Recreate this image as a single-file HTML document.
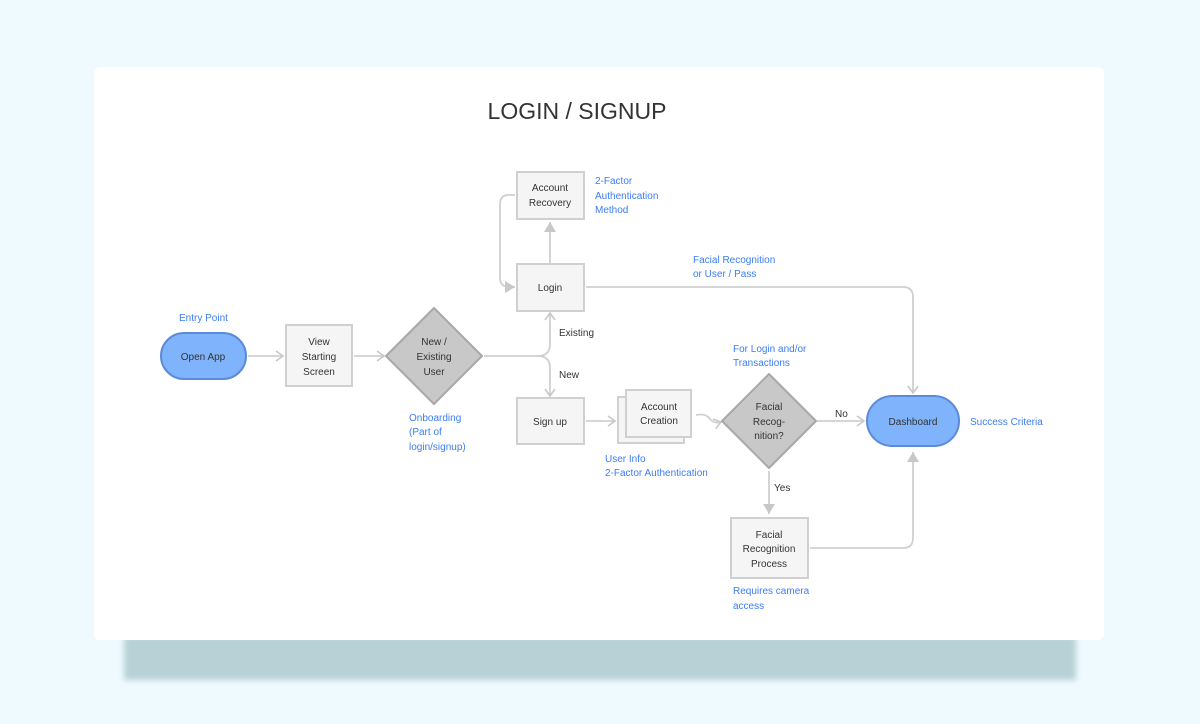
<!DOCTYPE html>
<html><head><meta charset="utf-8"><style>
html,body{margin:0;padding:0;background:#eefaff;width:1200px;height:724px;overflow:hidden}
.sh{position:absolute;left:124px;top:636px;width:952px;height:44px;background:#b7d1d6;filter:blur(3px)}
.card{position:absolute;left:94px;top:67px;width:1010px;height:573px;background:#fff;border-radius:6px}
svg{position:absolute;left:0;top:0}
text{font-family:"Liberation Sans",sans-serif}
.t{font-size:10px;fill:#333;text-anchor:middle}
.b{font-size:10px;fill:#3b7cf5}
.l{font-size:10px;fill:#333}
</style></head><body>
<div class="sh"></div><div class="card"></div>
<svg width="1200" height="724" viewBox="0 0 1200 724">
<defs>
<marker id="o" markerWidth="10" markerHeight="12" refX="8" refY="6" orient="auto" markerUnits="userSpaceOnUse"><path d="M1,1 L8,6 L1,11" fill="none" stroke="#c8c8c8" stroke-width="1.6"/></marker>
<marker id="f" markerWidth="12" markerHeight="12" refX="10" refY="6" orient="auto" markerUnits="userSpaceOnUse"><path d="M0,0 L10,6 L0,12 z" fill="#c8c8c8"/></marker>
</defs>
<text x="577" y="119" style="font-size:23px;fill:#333;text-anchor:middle">LOGIN / SIGNUP</text>
<g fill="none" stroke="#d0d0d0" stroke-width="1.8">
<line x1="248" y1="356" x2="283" y2="356" marker-end="url(#o)"/>
<line x1="354" y1="356" x2="384" y2="356" marker-end="url(#o)"/>
<path d="M484,356 H538 Q550,356 550,344 V313" marker-end="url(#o)"/>
<path d="M538,356 Q550,356 550,368 V396" marker-end="url(#o)"/>
<line x1="550" y1="263" x2="550" y2="222" marker-end="url(#f)"/>
<path d="M515,195 H508 Q500,195 500,205 V278 Q500,287 510,287 H515" marker-end="url(#f)"/>
<path d="M586,287 H903 Q913,287 913,297 V393" marker-end="url(#o)"/>
<line x1="586" y1="421" x2="615" y2="421" marker-end="url(#o)"/>
<path d="M696,415 Q706,413 710,419 Q714,424 721,422" marker-end="url(#o)"/>
<line x1="817" y1="421" x2="864" y2="421" marker-end="url(#o)"/>
<line x1="769" y1="471" x2="769" y2="514" marker-end="url(#f)"/>
<path d="M810,548 H903 Q913,548 913,538 V452" marker-end="url(#f)"/>
</g>
<rect x="161" y="333" width="85" height="46" rx="23" fill="#7fb3fb" stroke="#5b8bd8" stroke-width="2"/>
<text class="t" x="203" y="360">Open App</text>
<text class="b" x="179" y="321">Entry Point</text>
<rect x="286" y="325" width="66" height="61" fill="#f5f5f5" stroke="#d0d0d0" stroke-width="2"/>
<text class="t" x="319" y="345">View</text><text class="t" x="319" y="360">Starting</text><text class="t" x="319" y="375">Screen</text>
<path d="M434,308 L482,356 L434,404 L386,356 z" fill="#c8c8c8" stroke="#a8a8a8" stroke-width="2" stroke-linejoin="round"/>
<text class="t" x="434" y="345">New /</text><text class="t" x="434" y="360">Existing</text><text class="t" x="434" y="375">User</text>
<text class="b" x="409" y="421">Onboarding</text><text class="b" x="409" y="435">(Part of</text><text class="b" x="409" y="450">login/signup)</text>
<rect x="517" y="172" width="67" height="47" fill="#f5f5f5" stroke="#d0d0d0" stroke-width="2"/>
<text class="t" x="550" y="191">Account</text><text class="t" x="550" y="206">Recovery</text>
<text class="b" x="595" y="184">2-Factor</text><text class="b" x="595" y="199">Authentication</text><text class="b" x="595" y="213">Method</text>
<rect x="517" y="264" width="67" height="47" fill="#f5f5f5" stroke="#d0d0d0" stroke-width="2"/>
<text class="t" x="550" y="291">Login</text>
<text class="l" x="559" y="336">Existing</text>
<text class="l" x="559" y="378">New</text>
<rect x="517" y="398" width="67" height="46" fill="#f5f5f5" stroke="#d0d0d0" stroke-width="2"/>
<text class="t" x="550" y="425">Sign up</text>
<text class="b" x="693" y="263">Facial Recognition</text><text class="b" x="693" y="277">or User / Pass</text>
<rect x="618" y="397" width="66" height="46" fill="#f5f5f5" stroke="#d0d0d0" stroke-width="2"/>
<rect x="626" y="390" width="65" height="47" fill="#f5f5f5" stroke="#d0d0d0" stroke-width="2"/>
<text class="t" x="659" y="410">Account</text><text class="t" x="659" y="424">Creation</text>
<text class="b" x="605" y="462">User Info</text><text class="b" x="605" y="476">2-Factor Authentication</text>
<text class="b" x="733" y="352">For Login and/or</text><text class="b" x="733" y="366">Transactions</text>
<path d="M769,374 L816,421 L769,468 L722,421 z" fill="#c8c8c8" stroke="#a8a8a8" stroke-width="2" stroke-linejoin="round"/>
<text class="t" x="769" y="410">Facial</text><text class="t" x="769" y="425">Recog-</text><text class="t" x="769" y="439">nition?</text>
<text class="l" x="835" y="417">No</text>
<text class="l" x="774" y="491">Yes</text>
<rect x="867" y="396" width="92" height="50" rx="25" fill="#7fb3fb" stroke="#5b8bd8" stroke-width="2"/>
<text class="t" x="913" y="425">Dashboard</text>
<text class="b" x="970" y="425">Success Criteria</text>
<rect x="731" y="518" width="77" height="60" fill="#f5f5f5" stroke="#d0d0d0" stroke-width="2"/>
<text class="t" x="769" y="538">Facial</text><text class="t" x="769" y="552">Recognition</text><text class="t" x="769" y="567">Process</text>
<text class="b" x="733" y="594">Requires camera</text><text class="b" x="733" y="609">access</text>
</svg>
</body></html>
